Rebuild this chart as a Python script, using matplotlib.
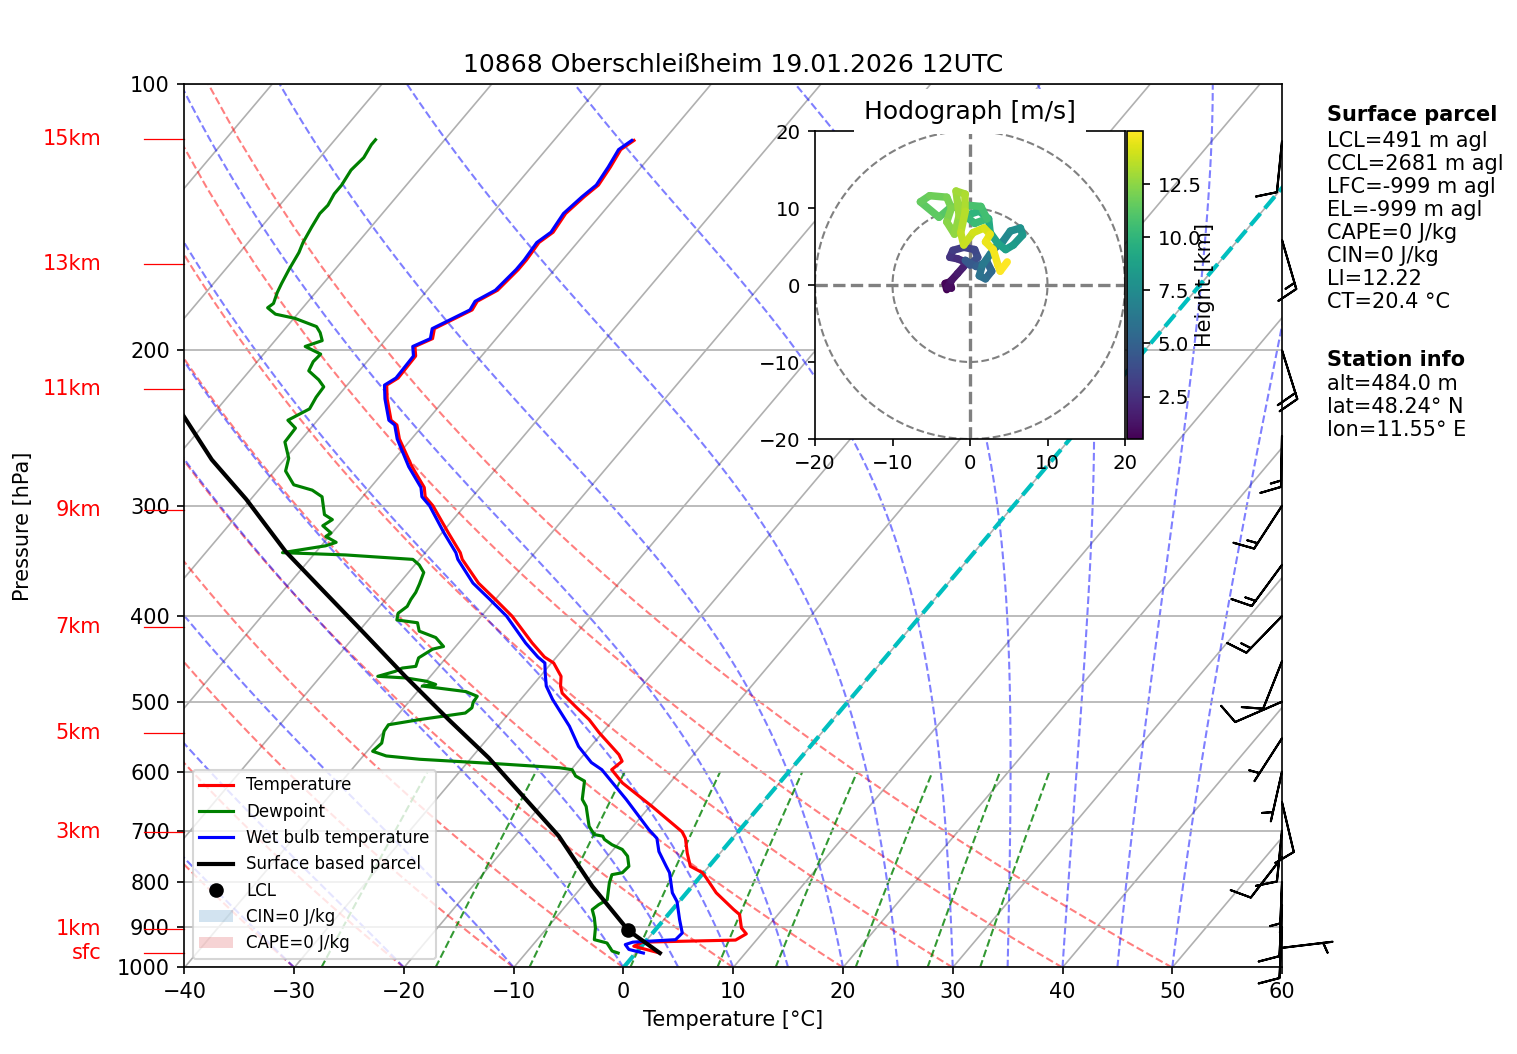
import numpy as np
import matplotlib
matplotlib.use("Agg")
import matplotlib.pyplot as plt
from matplotlib import transforms
from matplotlib.cm import ScalarMappable
from matplotlib.collections import LineCollection
from matplotlib.colors import Normalize
from matplotlib.patches import Patch
from matplotlib.ticker import NullLocator, FixedLocator, FixedFormatter


FIG_W, FIG_H, DPI = 1517, 1054, 150
SKEW_DEG = 34.2
OUT_FILE = "out.png"

TITLE = "10868 Oberschleißheim 19.01.2026 12UTC"

# temperature profile
TEMP_P = [963, 946, 936, 931, 916, 902, 871, 860, 823, 791, 781, 768, 742, 714, 702,
          657, 618, 597, 584, 574, 542, 524, 506, 489, 480, 468, 452, 445, 429, 400,
          383, 367, 345, 339, 322, 300, 293, 286, 271, 252, 243, 240, 227, 219, 215,
          203, 198, 194, 189, 184, 180, 176, 171, 162, 158, 151, 147, 140, 134, 130,
          124, 118.5, 115.7]
TEMP_C = [2.2, -0.7, -0.2, 8.1, 8.6, 7.7, 6.5, 5.6, 2.7, 0.6, -0.1, -1.7, -3.0, -4.3, -5.1,
          -9.8, -14.3, -16.3, -16.0, -16.8, -20.3, -22.2, -24.5, -26.7, -27.4, -28.1, -29.8,
          -31.1, -33.3, -37.2, -40.0, -42.8, -46.1, -46.8, -49.4, -52.9, -54.3, -55.1, -57.8,
          -61.1, -62.4, -63.3, -65.3, -66.4, -65.9, -66.0, -66.8, -65.8, -66.4, -65.3, -64.4,
          -64.6, -63.6, -63.3, -63.3, -63.5, -63.0, -63.3, -62.9, -62.5, -62.8, -63.2, -62.7]

# dewpoint profile
DEW_P = [963, 958, 938, 930, 902, 878, 860, 849, 838, 802, 785, 781, 768, 748, 735, 726,
         716, 710, 707, 692, 657, 645, 615, 607, 597, 594, 588, 581, 576, 569, 557, 540,
         531, 524, 515, 508, 501, 493, 487, 480, 478, 474, 470, 468, 462, 458, 456, 446,
         436, 433, 423, 416, 407, 404, 397, 390, 383, 376, 368, 357, 350, 345, 341, 339,
         333, 330, 325, 322, 316, 311, 307, 293, 288, 284, 274, 265, 254, 245, 240, 233,
         226, 220, 216, 211, 206, 202, 198, 195, 191, 188, 184, 182, 179, 177, 172, 168,
         162, 155, 151, 145, 140, 137, 133, 130, 125, 121, 117, 115.5]
DEW_C = [-1.6, -2.3, -3.4, -4.8, -5.6, -6.5, -7.3, -7.1, -6.7, -7.8, -8.2, -7.4, -7.3, -8.2,
         -9.2, -10.5, -11.6, -12.0, -12.9, -14.0, -15.8, -16.7, -17.9, -19.1, -19.9, -21.2,
         -27.0, -34.6, -37.9, -39.5, -39.3, -40.0, -40.1, -37.7, -34.0, -33.8, -34.1, -34.2,
         -35.6, -40.0, -38.9, -40.0, -42.1, -44.8, -43.6, -43.2, -42.1, -42.5, -41.9, -41.1,
         -42.5, -44.5, -45.3, -47.4, -47.8, -47.5, -47.7, -47.8, -48.1, -48.6, -49.6, -50.6,
         -57.1, -63.0, -59.6, -58.9, -60.3, -60.1, -61.4, -61.0, -62.1, -63.7, -65.1, -67.2,
         -69.0, -69.7, -71.3, -71.4, -72.7, -71.6, -71.9, -72.0, -73.0, -74.6, -74.9, -74.8,
         -76.8, -75.7, -76.5, -77.3, -79.9, -82.0, -83.2, -83.0, -83.5, -83.8, -84.2, -84.6,
         -85.0, -85.4, -85.7, -85.6, -85.9, -85.9, -86.2, -86.0, -86.3, -86.3]

# wet bulb profile
WET_P = [963, 954, 942, 936, 930, 914, 882, 842, 823, 781, 768, 739, 714, 698, 645, 597,
         586, 562, 533, 497, 480, 464, 452, 445, 429, 400, 383, 367, 345, 339, 322, 300,
         293, 286, 271, 252, 243, 240, 227, 219, 215, 203, 198, 194, 189, 184, 180, 176,
         171, 162, 158, 151, 147, 140, 134, 130, 124, 118.5, 115.7]
WET_C = [0.7, -0.9, -1.6, -1.1, 2.6, 2.7, 1.4, -0.2, -1.3, -3.1, -3.9, -5.7, -6.9, -8.3,
         -12.7, -17.2, -18.7, -21.1, -23.5, -27.1, -28.7, -29.8, -30.6, -31.7, -33.9, -37.7,
         -40.5, -43.3, -46.5, -47.2, -49.8, -53.2, -54.6, -55.4, -58.1, -61.3, -62.6, -63.5,
         -65.5, -66.6, -66.1, -66.2, -67.0, -66.0, -66.6, -65.5, -64.6, -64.8, -63.8, -63.5,
         -63.5, -63.7, -63.2, -63.5, -63.1, -62.7, -63.0, -63.4, -62.9]

# surface based parcel
PARCEL_P = [963, 908, 809, 710, 579, 524, 468, 414, 370, 338, 295, 266, 237.5, 220]
PARCEL_C = [2.2, -2.4, -9.1, -16.0, -28.4, -35.0, -42.3, -50.0, -57.1, -62.8, -70.4,
            -76.6, -82.5, -86.5]
LCL_P = 908
LCL_C = -2.4

# wind barbs (knots)
BARB_P = [950, 900, 850, 800, 750, 700, 650, 600, 550, 500, 450, 400, 350, 300,
          250, 200, 150, 116]
BARB_U = [-5.0, 0.5, 0.5, 0.2, 6.1, 1.0, -2.3, 1.1, 2.7, 9.2, 3.7, 10.5, 8.9, 8.2,
          0.3, -6.0, -4.2, 1.0]
BARB_V = [-0.6, 10.0, 10.0, 5.0, 7.9, 10.0, 9.7, 4.9, 4.2, 4.0, 9.3, 10.8, 12.1,
          12.6, 15.0, 19.1, 14.4, 10.0]

# height marks on the left
HEIGHT_LABELS = ["sfc", "1km", "3km", "5km", "7km", "9km", "11km", "13km", "15km"]
HEIGHT_P = [964, 904, 703, 543, 411, 303, 221, 159.5, 115.2]

# hodograph (m/s, km)
HODO_H = [0.5, 0.6, 0.7, 0.8, 0.9, 1.1, 1.4, 1.7, 2.0, 2.3, 2.6, 2.9, 3.2, 3.5, 3.8,
          4.1, 4.4, 4.7, 5.0, 5.3, 5.6, 5.9, 6.2, 6.5, 6.8, 7.1, 7.4, 7.7, 8.0, 8.3,
          8.6, 8.9, 9.2, 9.5, 9.8, 10.1, 10.3, 10.5, 10.7, 10.9, 11.1, 11.3, 11.5, 11.7,
          11.9, 12.1, 12.3, 12.5, 12.7, 12.9, 13.1, 13.3, 13.5, 13.7, 13.9, 14.1, 14.3,
          14.5, 14.7, 14.8, 14.9, 15.0]
HODO_U = [-3.0, -3.2, -2.6, -2.4, -2.9, -2.4, -1.6, -0.9, -0.4, -1.6, -2.6, -2.2, -0.8,
          0.6, 1.0, 0.0, -0.6, 0.8, 2.2, 2.8, 2.0, 1.2, 1.6, 2.6, 3.4, 4.2, 5.2, 6.5, 6.8,
          5.6, 4.6, 3.6, 2.6, 2.4, 1.2, -0.6, 0.6, 2.2, 1.4, -0.8, -2.6, -4.0, -6.4, -5.2,
          -3.0, -2.4, -3.0, -2.0, -1.4, -1.8, -0.6, -0.6, -1.2, -0.8, 0.4, 1.8, 2.6, 2.0,
          3.0, 3.6, 3.9, 4.8]
HODO_V = [-0.6, 0.2, 0.4, -0.4, -0.3, 0.6, 1.5, 2.3, 2.9, 3.4, 3.6, 4.5, 4.9, 4.6, 3.6,
          2.6, 3.2, 2.4, 3.0, 1.8, 0.8, 1.2, 2.6, 4.0, 5.0, 5.6, 7.0, 7.4, 6.5, 5.2, 4.6,
          5.4, 6.8, 8.6, 9.6, 9.0, 8.0, 8.6, 10.2, 10.4, 10.0, 8.8, 10.8, 11.6, 11.4, 10.0,
          8.2, 6.6, 9.0, 12.2, 11.8, 9.6, 6.8, 5.2, 6.8, 7.4, 6.6, 5.6, 4.6, 2.6, 1.8, 3.0]

# background lines
ISOTHERMS = list(range(-120, 61, 10))
DRY_T0 = [-40, -30, -20, -10, 0, 10, 20, 30, 40, 50]
MOIST_T0 = [-40, -30, -20, -10, 0, 5, 10, 15, 20, 25, 30, 35, 40, 45, 50]
MIXING_RATIOS = [0.0004, 0.001, 0.002, 0.004, 0.007, 0.01, 0.016, 0.024, 0.032]

PARCEL_TEXT = ["LCL=491 m agl", "CCL=2681 m agl", "LFC=-999 m agl", "EL=-999 m agl",
               "CAPE=0 J/kg", "CIN=0 J/kg", "LI=12.22", "CT=20.4 °C"]
STATION_TEXT = ["alt=484.0 m", "lat=48.24° N", "lon=11.55° E"]


def dry_lapse(t0, p):
    return (t0 + 273.15) * (p / 1000.0) ** 0.2857 - 273.15


def moist_slope(t, p):
    es = 6.112 * np.exp(17.67 * (t - 273.15) / (t - 29.65))
    rs = 0.622 * es / (p - es)
    num = (287.04 * t + 2.501e6 * rs) / p
    den = 1005.7 + (2.501e6 ** 2 * rs * 0.622) / (287.04 * t ** 2)
    return num / den


def moist_lapse(t0, p):
    t = np.array(t0, dtype=float) + 273.15
    out = [t.copy()]
    for p0, p1 in zip(p[:-1], p[1:]):
        h = p1 - p0
        k1 = moist_slope(t, p0)
        k2 = moist_slope(t + 0.5 * h * k1, p0 + 0.5 * h)
        k3 = moist_slope(t + 0.5 * h * k2, p0 + 0.5 * h)
        k4 = moist_slope(t + h * k3, p1)
        t = t + h / 6.0 * (k1 + 2 * k2 + 2 * k3 + k4)
        out.append(t.copy())
    return np.array(out).T - 273.15


def mixing_dewpoint(w, p):
    e = p * w / (0.622 + w)
    a = np.log(e / 6.112)
    return 243.5 * a / (17.67 - a)


fig = plt.figure(figsize=(FIG_W / DPI, FIG_H / DPI), dpi=DPI)
ax = fig.add_axes([0.12162, 0.08207, 0.72347, 0.83776])
ax.set_yscale("log")
ax.set_xlim(-40, 60)
ax.set_ylim(1000, 100)
ax.set_autoscale_on(False)
skew = (ax.transScale + ax.transLimits
        + transforms.Affine2D().skew_deg(SKEW_DEG, 0) + ax.transAxes)

# grid
ax.yaxis.set_major_locator(FixedLocator([100, 200, 300, 400, 500, 600, 700, 800, 900, 1000]))
ax.yaxis.set_major_formatter(FixedFormatter(["100", "200", "300", "400", "500", "600",
                                             "700", "800", "900", "1000"]))
ax.yaxis.set_minor_locator(NullLocator())
ax.set_xticks(range(-40, 61, 10))
ax.yaxis.grid(True, color="#b0b0b0", lw=0.8)
for t in ISOTHERMS:
    ax.plot([t, t], [1000, 100], transform=skew, color="#b0b0b0", lw=0.8, zorder=1)

p_grid = np.linspace(1000, 100, 60)
dry = [np.column_stack([dry_lapse(t0, p_grid), p_grid]) for t0 in DRY_T0]
ax.add_collection(LineCollection(dry, transform=skew, colors="r", alpha=0.5,
                                 linestyles="dashed", linewidths=1, zorder=1.5))

p_moist = np.linspace(1000, 100, 181)
moist_t = moist_lapse(MOIST_T0, p_moist)
moist = [np.column_stack([row, p_moist]) for row in moist_t]
ax.add_collection(LineCollection(moist, transform=skew, colors="b", alpha=0.5,
                                 linestyles="dashed", linewidths=1, zorder=1.5))

p_mix = np.linspace(1000, 600, 30)
mix = [np.column_stack([mixing_dewpoint(w, p_mix), p_mix]) for w in MIXING_RATIOS]
ax.add_collection(LineCollection(mix, transform=skew, colors="g", alpha=0.8,
                                 linestyles="dashed", linewidths=1, zorder=1.5))

ax.plot([0, 0], [1000, 100], transform=skew, color="c", ls="--", lw=2, zorder=1.6)

# profiles
l_t, = ax.plot(TEMP_C, TEMP_P, transform=skew, color="red", lw=1.5, label="Temperature")
l_d, = ax.plot(DEW_C, DEW_P, transform=skew, color="green", lw=1.5, label="Dewpoint")
l_w, = ax.plot(WET_C, WET_P, transform=skew, color="blue", lw=1.5,
               label="Wet bulb temperature")
l_p, = ax.plot(PARCEL_C, PARCEL_P, transform=skew, color="black", lw=2,
               label="Surface based parcel")
l_l, = ax.plot([LCL_C], [LCL_P], transform=skew, color="black", marker="o", ls="none",
               label="LCL")

ax.barbs(np.ones(len(BARB_P)), BARB_P, BARB_U, BARB_V,
         transform=ax.get_yaxis_transform(), clip_on=False, zorder=3)

# height marks
ytrans = ax.get_yaxis_transform()
for label, p in zip(HEIGHT_LABELS, HEIGHT_P):
    ax.plot([-0.0365, 0], [p, p], transform=ytrans, color="red", lw=0.6, clip_on=False)
    ax.text(-0.076, p, label, transform=ytrans, color="red", ha="right", va="center",
            fontsize=10)

handles = [l_t, l_d, l_w, l_p, l_l,
           Patch(facecolor="tab:blue", alpha=0.2, label="CIN=0 J/kg"),
           Patch(facecolor="tab:red", alpha=0.2, label="CAPE=0 J/kg")]
ax.legend(handles=handles, loc="lower left", fontsize=8)

ax.set_title(TITLE, fontsize=12)
ax.set_xlabel("Temperature [°C]")
ax.set_ylabel("Pressure [hPa]")
ax.yaxis.set_label_coords(-0.138, 0.5)

# hodograph
hax = fig.add_axes([0.53725, 0.58349, 0.20435, 0.29222])
hax.set_xlim(-20, 20)
hax.set_ylim(-20, 20)
hax.set_xticks([-20, -10, 0, 10, 20])
hax.set_yticks([-20, -10, 0, 10, 20])
hax.tick_params(labelsize=9.5)
ang = np.linspace(0, 2 * np.pi, 200)
for r in (10, 20):
    hax.plot(r * np.cos(ang), r * np.sin(ang), color="grey", ls="--", lw=1.0)
hax.axhline(0, color="grey", ls="--", lw=1.6)
hax.axvline(0, color="grey", ls="--", lw=1.6)
pts = np.column_stack([HODO_U, HODO_V])
segs = np.stack([pts[:-1], pts[1:]], axis=1)
hnorm = Normalize(vmin=min(HODO_H), vmax=max(HODO_H))
hod = LineCollection(segs, cmap="viridis", norm=hnorm, linewidths=3.6, capstyle="round")
hod.set_array(0.5 * (np.array(HODO_H[:-1]) + np.array(HODO_H[1:])))
hax.add_collection(hod)
hax.set_title("Hodograph [m/s]", fontsize=12,
              bbox=dict(facecolor="white", edgecolor="none", pad=5))

cax = fig.add_axes([0.74291, 0.58349, 0.01055, 0.29222])
cb = fig.colorbar(ScalarMappable(norm=hnorm, cmap="viridis"), cax=cax)
cb.set_ticks([2.5, 5.0, 7.5, 10.0, 12.5])
cb.set_ticklabels(["2.5", "5.0", "7.5", "10.0", "12.5"])
cb.set_label("Height [km]", labelpad=-3)
cb.ax.tick_params(labelsize=9.5)

# info text
x_txt = 1327 / FIG_W
fig.text(x_txt, 1 - 121 / FIG_H, "Surface parcel", fontsize=10, fontweight="bold",
         va="baseline")
for i, line in enumerate(PARCEL_TEXT):
    fig.text(x_txt, 1 - (147 + 23 * i) / FIG_H, line, fontsize=10, va="baseline")
fig.text(x_txt, 1 - 366 / FIG_H, "Station info", fontsize=10, fontweight="bold",
         va="baseline")
for i, line in enumerate(STATION_TEXT):
    fig.text(x_txt, 1 - (390 + 23 * i) / FIG_H, line, fontsize=10, va="baseline")

fig.savefig(OUT_FILE, dpi=DPI)
